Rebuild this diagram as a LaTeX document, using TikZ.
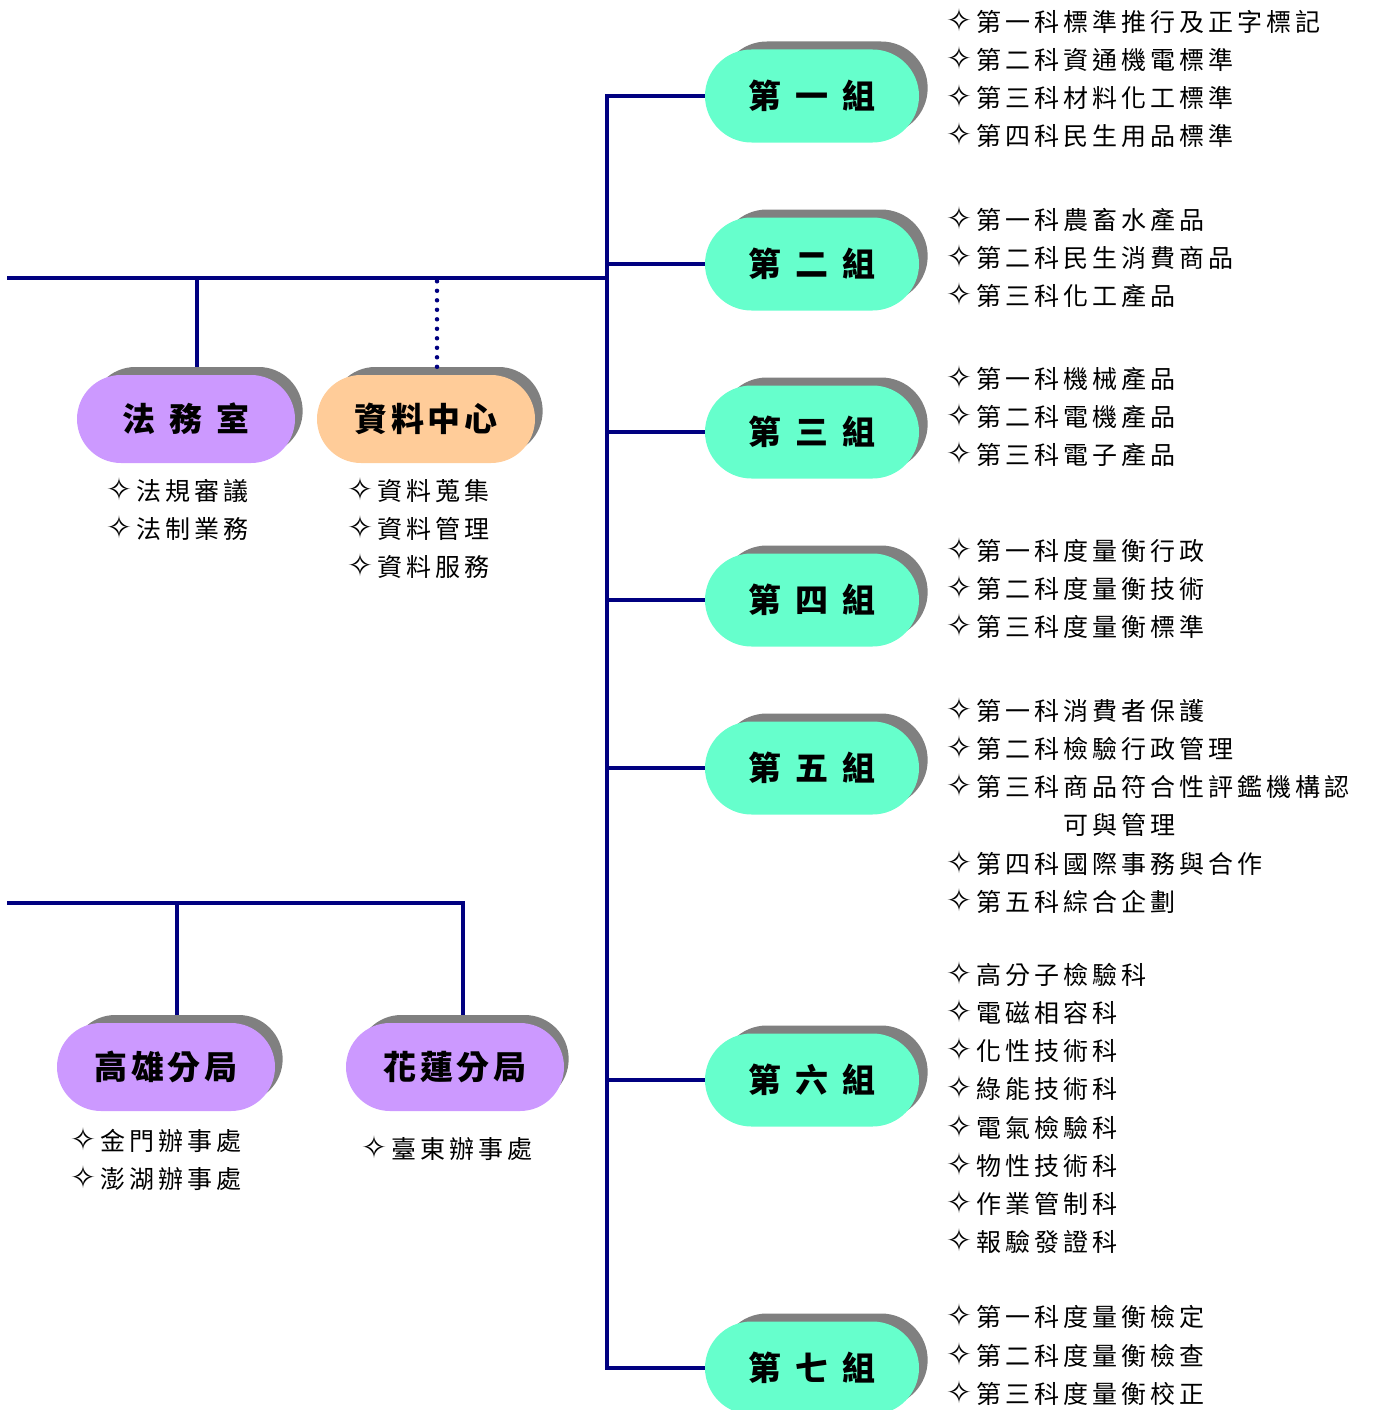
\documentclass[tikz,border=0pt]{standalone}
\usepackage{fontspec}
\usetikzlibrary{shapes.misc}
\newfontfamily\cjk{Noto Sans CJK TC}[LetterSpace=16]
\newfontfamily\cjktitle{Noto Sans CJK TC}[LetterSpace=11]
\newfontfamily\symfont{DejaVu Sans}
\newcommand{\itm}{\makebox[30pt][l]{\symfont\fontsize{31}{38.2}\selectfont ✧}}
\newcommand{\gap}{\hspace{14pt}}
\definecolor{grpgreen}{HTML}{66FFCC}
\definecolor{officepurple}{HTML}{CC99FF}
\definecolor{datapeach}{HTML}{FFCC99}
\definecolor{backgray}{HTML}{808080}
\definecolor{linknavy}{HTML}{000080}
\tikzset{
    pill/.style = {rounded rectangle, inner sep=0pt,
        font=\cjktitle\bfseries\fontsize{33}{33}\selectfont},
    grp/.style = {pill, fill=grpgreen, minimum width=214pt, minimum height=93pt},
    office/.style = {pill, fill=officepurple, minimum width=218pt, minimum height=88pt},
    grpback/.style = {rounded rectangle, fill=backgray, minimum width=214pt, minimum height=93pt},
    officeback/.style = {rounded rectangle, fill=backgray, minimum width=218pt, minimum height=88pt},
    items/.style = {anchor=north west, align=left, inner sep=0pt,
        font=\cjk\fontsize{25}{38.2}\selectfont},
    link/.style = {draw=linknavy, line width=3.8pt}
}

\begin{document}
\begin{tikzpicture}[x=1pt, y=-1pt]
    \useasboundingbox (0,0) rectangle (1373,1410);

    % groups on the right
    \node[grpback] (g1b) at (824,88) {};
    \node[grpback] (g2b) at (824,256) {};
    \node[grpback] (g3b) at (824,424) {};
    \node[grpback] (g4b) at (824,592) {};
    \node[grpback] (g5b) at (824,760) {};
    \node[grpback] (g6b) at (824,1072) {};
    \node[grpback] (g7b) at (824,1360) {};
    \node[grp] (g1) at (812,96) {第\gap 一\gap 組};
    \node[grp] (g2) at (812,264) {第\gap 二\gap 組};
    \node[grp] (g3) at (812,432) {第\gap 三\gap 組};
    \node[grp] (g4) at (812,600) {第\gap 四\gap 組};
    \node[grp] (g5) at (812,768) {第\gap 五\gap 組};
    \node[grp] (g6) at (812,1080) {第\gap 六\gap 組};
    \node[grp] (g7) at (812,1368) {第\gap 七\gap 組};

    \node[items] (g1i) at (946,8) {\itm 第一科標準推行及正字標記\\ \itm 第二科資通機電標準\\
        \itm 第三科材料化工標準\\ \itm 第四科民生用品標準};
    \node[items] (g2i) at (946,206) {\itm 第一科農畜水產品\\ \itm 第二科民生消費商品\\ \itm 第三科化工產品};
    \node[items] (g3i) at (946,365) {\itm 第一科機械產品\\ \itm 第二科電機產品\\ \itm 第三科電子產品};
    \node[items] (g4i) at (946,537) {\itm 第一科度量衡行政\\ \itm 第二科度量衡技術\\ \itm 第三科度量衡標準};
    \node[items] (g5i) at (946,697) {\itm 第一科消費者保護\\ \itm 第二科檢驗行政管理\\
        \itm 第三科商品符合性評鑑機構認\\ \hspace*{117pt}可與管理\\
        \itm 第四科國際事務與合作\\ \itm 第五科綜合企劃};
    \node[items] (g6i) at (946,961) {\itm 高分子檢驗科\\ \itm 電磁相容科\\ \itm 化性技術科\\
        \itm 綠能技術科\\ \itm 電氣檢驗科\\ \itm 物性技術科\\ \itm 作業管制科\\ \itm 報驗發證科};
    \node[items] (g7i) at (946,1303.5) {\itm 第一科度量衡檢定\\ \itm 第二科度量衡檢查\\ \itm 第三科度量衡校正};

    % offices and branches on the left
    \node[officeback] (lawb) at (197,411) {};
    \node[officeback] (datab) at (437,411) {};
    \node[officeback] (khhb) at (177,1059) {};
    \node[officeback] (hlb) at (463,1059) {};
    \node[office] (law) at (186,419) {法\gap 務\gap 室};
    \node[office, fill=datapeach] (data) at (426,419) {資料中心};
    \node[office] (khh) at (166,1067) {高雄分局};
    \node[office] (hl) at (455,1067) {花蓮分局};

    \node[items] (lawi) at (106,477) {\itm 法規審議\\ \itm 法制業務};
    \node[items] (datai) at (347,477) {\itm 資料蒐集\\ \itm 資料管理\\ \itm 資料服務};
    \node[items] (khhi) at (70,1127) {\itm 金門辦事處\\ \itm 澎湖辦事處};
    \node[items] (hli) at (361,1135) {\itm 臺東辦事處};

    % connectors
    \coordinate (top0) at (7,278);
    \coordinate (bot0) at (7,903);
    \coordinate (sp1) at (607,96);
    \draw[link] (g1.west) -- (sp1) -- (sp1 |- g7.west) -- (g7.west);
    \draw[link] (g2.west) -- (g2.west -| sp1);
    \draw[link] (g3.west) -- (g3.west -| sp1);
    \draw[link] (g4.west) -- (g4.west -| sp1);
    \draw[link] (g5.west) -- (g5.west -| sp1);
    \draw[link] (g6.west) -- (g6.west -| sp1);
    \draw[link] (top0) -- (top0 -| sp1);
    \draw[link] (lawb.north) -- (lawb.north |- top0);
    \draw[link, line width=4.5pt, line cap=round, dash pattern=on 0pt off 9.5pt]
        (datab.north) -- (datab.north |- top0);
    \draw[link] (bot0) -| (hlb.north);
    \draw[link] (khhb.north) -- (khhb.north |- bot0);

\end{tikzpicture}
\end{document}
